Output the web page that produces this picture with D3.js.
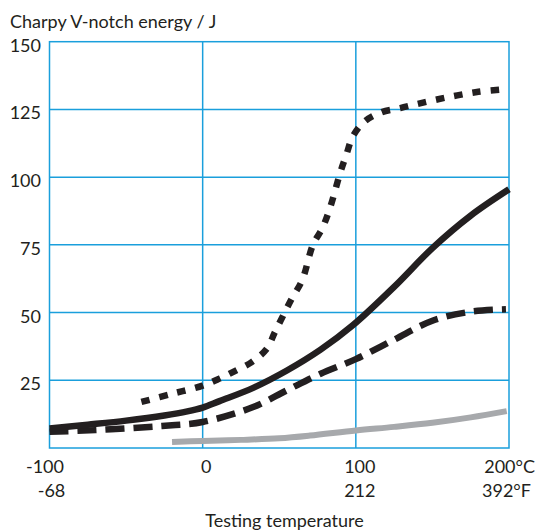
<!DOCTYPE html>
<html>
<head>
<meta charset="utf-8">
<script src="https://cdn.jsdelivr.net/npm/d3@7"></script>
<style>
  body { margin: 0; background: #fff; }
  text { font-family: Lato, "Open Sans", sans-serif; fill: #231f20; }
</style>
</head>
<body>
<script>
var w = 536, h = 532;

// axis ticks
var yTicks = [25, 50, 75, 100, 125, 150];
var xGrid = [0, 100];
var xLabelsC = ['-100', '0', '100', '200°C'];
var xLabelsF = ['-68', '', '212', '392°F'];
var xLabelPos = [-100, 0, 100, 200];

// curves: [temperature °C, energy J]
var dotted = [[-40, 17], [-20, 20], [0, 23], [11, 25.6], [21, 28.4], [32, 31.7], [42, 36.7],
  [47, 42.6], [53, 49.4], [58, 55], [65, 62], [72, 75], [78, 81], [83, 88.4], [90, 102],
  [94, 108.6], [98, 115], [106, 120.7], [117, 124], [129, 125.5], [140, 127],
  [160, 129.5], [180, 131.5], [198, 132.5]];
var solid = [[-100, 7.2], [-75, 8.6], [-50, 10.1], [-25, 12], [-10, 13.5], [0, 14.9],
  [11, 17.3], [33, 22.2], [55, 28.6], [77, 36.3], [98, 45.3], [125, 59.5], [150, 73.8],
  [175, 85.8], [200, 95.5]];
var dashed = [[-100, 6], [-70, 6.6], [-40, 7.6], [-20, 8.4], [0, 9.6], [33, 15.1],
  [55, 21.3], [77, 27.4], [100, 32.8], [125, 40], [150, 47], [175, 50.3], [198, 51.2]];
var grey = [[-20, 2.2], [0, 2.6], [25, 3], [50, 3.6], [70, 4.6], [100, 6.5],
  [125, 7.8], [150, 9.3], [175, 11.3], [198.5, 13.6]];

var x = d3.scaleLinear().domain([-100, 200]).range([49.5, 509]);
var y = d3.scaleLinear().domain([0, 150]).range([448, 41.7]);

var svg = d3.select('body').append('svg')
    .attr('width', w)
    .attr('height', h);

var blue = '#1a9fdc';

// grid
var grid = svg.append('g');
grid.selectAll('line.h')
    .data(yTicks.slice(0, -1))
    .enter()
    .append('line')
    .attr('x1', x(-100)).attr('x2', x(200))
    .attr('y1', d => y(d)).attr('y2', d => y(d))
    .attr('stroke', blue).attr('stroke-width', 1.5);
grid.selectAll('line.v')
    .data(xGrid)
    .enter()
    .append('line')
    .attr('x1', d => x(d)).attr('x2', d => x(d))
    .attr('y1', y(0)).attr('y2', y(150))
    .attr('stroke', blue).attr('stroke-width', 1.5);
grid.append('rect')
    .attr('x', x(-100)).attr('y', y(150))
    .attr('width', x(200) - x(-100)).attr('height', y(0) - y(150))
    .attr('fill', 'none').attr('stroke', blue).attr('stroke-width', 1.5);

// curves
var line = d3.line()
    .x(d => x(d[0]))
    .y(d => y(d[1]))
    .curve(d3.curveCatmullRom.alpha(0.5));

svg.append('path').attr('d', line(grey))
    .attr('fill', 'none').attr('stroke', '#a7a9ac').attr('stroke-width', 6);
svg.append('path').attr('d', line(dashed))
    .attr('fill', 'none').attr('stroke', '#231f20').attr('stroke-width', 6.5)
    .attr('stroke-dasharray', '19,9');
svg.append('path').attr('d', line(solid))
    .attr('fill', 'none').attr('stroke', '#231f20').attr('stroke-width', 6.5);
svg.append('path').attr('d', line(dotted))
    .attr('fill', 'none').attr('stroke', '#231f20').attr('stroke-width', 6.5)
    .attr('stroke-dasharray', '8.5,10');

// labels
svg.append('text')
    .attr('x', 10).attr('y', 28)
    .attr('font-size', 18)
    .text('Charpy V-notch energy / J');

svg.selectAll('text.yt')
    .data(yTicks)
    .enter()
    .append('text')
    .attr('x', 41).attr('y', d => y(d) + 10)
    .attr('text-anchor', 'end')
    .attr('font-size', 18)
    .text(d => d);

var xOff = [-4.5, 3.5, 4, 0];
svg.selectAll('text.xc')
    .data(xLabelPos)
    .enter()
    .append('text')
    .attr('x', (d, i) => i == 3 ? 535 : x(d) + xOff[i])
    .attr('y', 473)
    .attr('text-anchor', (d, i) => i == 3 ? 'end' : 'middle')
    .attr('font-size', 18)
    .text((d, i) => xLabelsC[i]);

var fOff = [2, 3.5, 4, 0];
svg.selectAll('text.xf')
    .data(xLabelPos)
    .enter()
    .append('text')
    .attr('x', (d, i) => i == 3 ? 531 : x(d) + fOff[i])
    .attr('y', 497)
    .attr('text-anchor', (d, i) => i == 3 ? 'end' : 'middle')
    .attr('font-size', 18)
    .text((d, i) => xLabelsF[i]);

svg.append('text')
    .attr('x', 284.5).attr('y', 527)
    .attr('text-anchor', 'middle')
    .attr('font-size', 18)
    .text('Testing temperature');
</script>
</body>
</html>
